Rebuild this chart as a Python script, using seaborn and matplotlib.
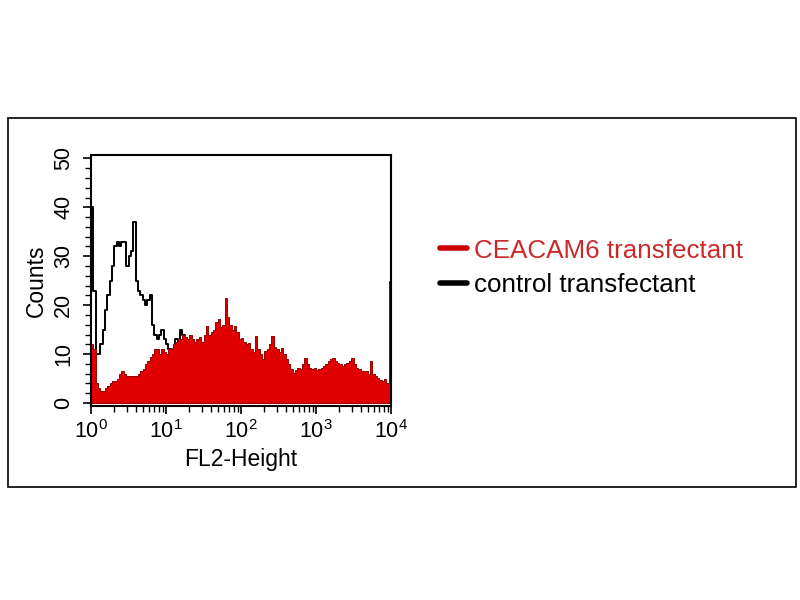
import numpy as np
import pandas as pd
import matplotlib
matplotlib.use('Agg')
import matplotlib.pyplot as plt
import seaborn as sns
from matplotlib.lines import Line2D
from matplotlib.patches import Rectangle
from matplotlib.ticker import MultipleLocator, LogLocator, LogFormatterMathtext, NullFormatter

# FL2 histogram, 32 channels per decade over 10^0 .. 10^4
CHANNELS_PER_DECADE = 32

ceacam6_counts = [
    12, 11, 4, 3, 2.5, 2.5, 3, 3.5, 4, 4.5, 4.5, 5, 6, 6.5, 6, 5.5,
    5.5, 5.5, 5.5, 5.5, 6, 6.5, 7, 8, 8.5, 9.5, 10, 11, 11, 10, 11, 10.5,
    10, 11, 11, 12, 12.5, 13, 13, 14, 13.5, 13, 14, 13, 12.5, 13, 13.5, 12.5,
    14, 15.8, 14, 14.5, 15, 16.5, 17.2, 15.5, 16, 21.5, 17.5, 16, 15, 15.8, 14.5, 13,
    13.3, 12.5, 12, 12.3, 11, 10.5, 13.7, 11, 10, 9, 10.7, 11, 12, 13.7, 11.5, 11,
    10.5, 11.3, 10, 9, 8, 7, 6.2, 6.8, 7.2, 7, 8, 9.2, 8, 7.2, 7, 7.2,
    6.8, 7, 7.2, 7.5, 8, 8.5, 9, 9.2, 8.5, 8.2, 8, 7.6, 8, 8.2, 8.5, 9.2,
    8, 7.2, 7, 6.6, 6.6, 6.5, 6, 8.6, 6, 5.5, 5.2, 4.8, 4.5, 5, 4, 25,
]

control_counts = [
    40, 23, 10, 10, 12, 15, 19, 22, 25, 28, 32, 33, 32, 33, 33, 28,
    30, 31, 37, 25, 23, 22, 21, 20, 21, 22, 16, 14, 13, 14, 15, 13,
    12, 11, 10, 11, 13, 12, 15, 14, 13, 12, 11, 10,
]

labels = ['CEACAM6 transfectant', 'control transfectant']
colors = ['#e10000', 'black']


def channel_values(counts):
    idx = np.arange(len(counts))
    return 10 ** ((idx + 0.5) / CHANNELS_PER_DECADE)


red_df = pd.DataFrame({'FL2': channel_values(ceacam6_counts), 'n': ceacam6_counts})
ctl_df = pd.DataFrame({'FL2': channel_values(control_counts), 'n': control_counts})

sns.set_style('ticks')
plt.rcParams['font.family'] = ['Liberation Sans', 'DejaVu Sans']
plt.rcParams['mathtext.default'] = 'regular'
for k in ['text.color', 'axes.labelcolor', 'xtick.color', 'ytick.color']:
    plt.rcParams[k] = 'black'

fig = plt.figure(figsize=(8, 6), dpi=100)
ax = fig.add_axes([91 / 800, 1 - 406 / 600, 300 / 800, 251 / 600])

n_ctl = len(control_counts)
sns.histplot(data=ctl_df, x='FL2', weights='n', bins=n_ctl,
             binrange=(0, n_ctl / CHANNELS_PER_DECADE), log_scale=True,
             element='step', fill=False, color='black', linewidth=1.4,
             zorder=1, ax=ax)
sns.histplot(data=red_df, x='FL2', weights='n', bins=len(ceacam6_counts),
             binrange=(0, 4), log_scale=True, element='step', fill=True,
             color=colors[0], alpha=1, edgecolor='#9a0000', linewidth=0.7,
             zorder=2, ax=ax)

ax.set_xlim(1, 1e4)
ax.set_ylim(-0.6, 50.7)
ax.xaxis.set_major_locator(LogLocator(base=10, numticks=10))
ax.xaxis.set_major_formatter(LogFormatterMathtext())
ax.xaxis.set_minor_locator(LogLocator(base=10, subs=np.arange(2, 10), numticks=20))
ax.xaxis.set_minor_formatter(NullFormatter())
ax.yaxis.set_major_locator(MultipleLocator(10))
ax.yaxis.set_minor_locator(MultipleLocator(2))
ax.tick_params(which='major', direction='out', length=6, width=1.2, labelsize=15.5)
ax.tick_params(which='minor', direction='out', length=4, width=1)
ax.tick_params(axis='x', which='major', pad=4)
ax.tick_params(axis='y', labelrotation=90, pad=6)
for t in ax.get_yticklabels():
    t.set_va('center')
ax.set_xlabel('FL2-Height', fontsize=16.5, labelpad=4)
ax.set_ylabel('Counts', fontsize=16.5, labelpad=4)
for s in ax.spines.values():
    s.set_linewidth(1.5)
    s.set_color('black')

handles = [Line2D([], [], color='#cc0000', lw=4), Line2D([], [], color='black', lw=4)]
leg = fig.legend(handles, labels, loc='center left',
                 bbox_to_anchor=(440 / 800, 1 - 268 / 600), frameon=False,
                 fontsize=18.7, handlelength=1.05, handletextpad=0.25,
                 labelspacing=0.42, borderpad=0, borderaxespad=0)
leg.get_texts()[0].set_color('#cc2a2a')
leg.get_texts()[1].set_color('black')

fig.add_artist(Rectangle((8 / 800, 1 - 487 / 600), 788 / 800, 369 / 600,
                         transform=fig.transFigure, fill=False,
                         edgecolor='black', linewidth=1.2))

fig.savefig('out.png', dpi=100)
